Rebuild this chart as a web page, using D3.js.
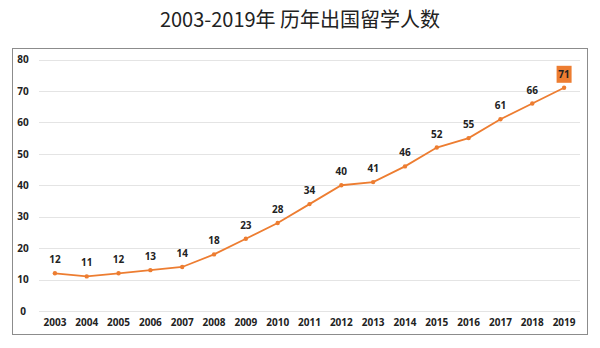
<!DOCTYPE html>
<html><head><meta charset="utf-8">
<script src="https://cdn.jsdelivr.net/npm/d3@7"></script>
<style>body{margin:0;background:#fff}svg{display:block}</style>
</head><body>
<script>
const years = ["2003","2004","2005","2006","2007","2008","2009","2010","2011","2012","2013","2014","2015","2016","2017","2018","2019"];
const values = [12,11,12,13,14,18,23,28,34,40,41,46,52,55,61,66,71];
const yTicks = [0,10,20,30,40,50,60,70,80];
const title = "2003-2019年 历年出国留学人数";

const W = 600, H = 348;
const svg = d3.select("body").append("svg").attr("width", W).attr("height", H);
const font = "'Open Sans','Noto Sans CJK SC',sans-serif";

svg.append("text").attr("x", 300).attr("y", 27).attr("text-anchor", "middle")
  .attr("font-family", "'Noto Sans CJK SC',sans-serif").attr("font-size", 20).attr("fill", "#222").text(title);

svg.append("rect").attr("x", 12.5).attr("y", 48.5).attr("width", 575).attr("height", 286)
  .attr("fill", "none").attr("stroke", "#8c8c8c").attr("stroke-width", 1);

const x = d3.scaleBand().domain(years).range([39, 580]);
const y = d3.scaleLinear().domain([0, 80]).range([311, 59.5]);

const grid = svg.append("g");
grid.selectAll("line").data(yTicks).join("line")
  .attr("x1", 39).attr("x2", 580).attr("y1", d => Math.round(y(d)) + 0.5).attr("y2", d => Math.round(y(d)) + 0.5)
  .attr("stroke", "#e4e4e4").attr("stroke-width", 1);

const yAxis = svg.append("g").attr("transform", "translate(30,0)")
  .call(d3.axisLeft(y).tickValues(yTicks).tickSize(0).tickPadding(0));
yAxis.select(".domain").remove();
yAxis.selectAll("text").attr("font-family", font).attr("font-size", 10).attr("font-weight", "bold").attr("fill", "#222")
  .attr("text-anchor", "middle").attr("x", -7);

const xAxis = svg.append("g").attr("transform", "translate(0,319)")
  .call(d3.axisBottom(x).tickSize(0).tickPadding(0));
xAxis.select(".domain").remove();
xAxis.selectAll("text").attr("font-family", font).attr("font-size", 10).attr("font-weight", "bold").attr("fill", "#222");

const cx = d => x(d) + x.bandwidth() / 2;
const line = d3.line().x((d, i) => cx(years[i])).y(d => y(d));
svg.append("path").datum(values).attr("d", line).attr("fill", "none")
  .attr("stroke", "#ED7D31").attr("stroke-width", 1.8);
svg.selectAll("circle.pt").data(values).join("circle").attr("class", "pt")
  .attr("cx", (d, i) => cx(years[i])).attr("cy", d => y(d)).attr("r", 2.2).attr("fill", "#ED7D31");

const last = values.length - 1;
svg.append("rect").attr("x", cx(years[last]) - 7.5).attr("y", y(values[last]) - 22).attr("width", 15).attr("height", 17)
  .attr("fill", "#ED7D31");

svg.selectAll("text.lbl").data(values).join("text").attr("class", "lbl")
  .attr("x", (d, i) => cx(years[i])).attr("y", d => y(d) - 10)
  .attr("text-anchor", "middle").attr("font-family", font).attr("font-size", 10).attr("font-weight", "bold")
  .attr("fill", "#222").text(d => d);
</script>
</body></html>
